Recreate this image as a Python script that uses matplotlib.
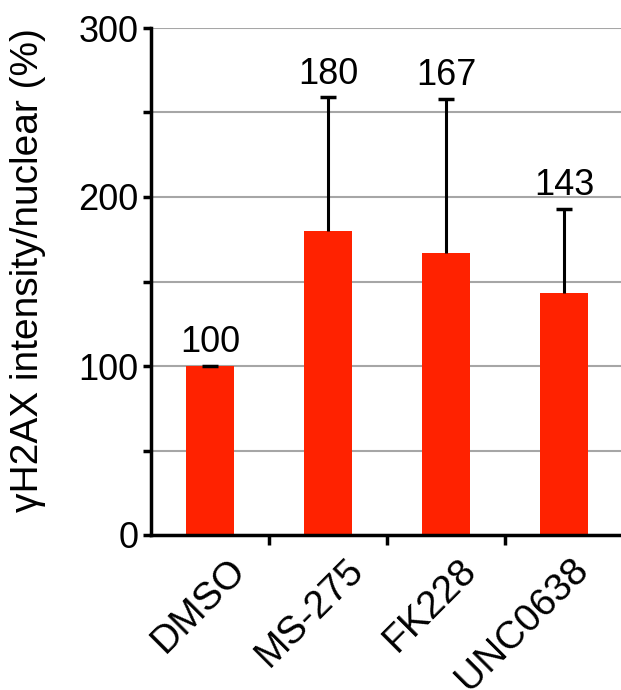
import matplotlib
matplotlib.use("Agg")
import matplotlib.pyplot as plt
import matplotlib.transforms as mtransforms

categories = ["DMSO", "MS-275", "FK228", "UNC0638"]
means = [100, 180, 167, 143]
err_upper = [0, 79, 91, 50]
labels = ["100", "180", "167", "143"]

plt.rcParams['font.family'] = ['Liberation Sans', 'DejaVu Sans']
FS = 26

fig = plt.figure(figsize=(6.21, 6.90), dpi=100)
ax = fig.add_axes([151/621, 1-535/690, 472/621, 507/690])

x = list(range(len(categories)))
ax.bar(x, means, width=0.41, color="#FF2200", zorder=2)
_, caps, _ = ax.errorbar(x, means, yerr=[[0]*len(means), err_upper], fmt='none',
                         ecolor='black', elinewidth=2.2, capsize=6, capthick=2.5, zorder=3)
if len(caps) == 2:
    caps[0].set_visible(False)

for xi, m, e, lab in zip(x, means, err_upper, labels):
    ax.annotate(lab, (xi, m + e), xytext=(0, 4), textcoords='offset points',
                ha='center', va='bottom', fontsize=FS)

ax.set_ylim(0, 300)
ax.set_xlim(-0.5, 3.5)
ax.set_yticks([0, 100, 200, 300])
ax.set_yticks([50, 150, 250], minor=True)
ax.set_yticklabels(["0", "100", "200", "300"], fontsize=FS)
ax.yaxis.grid(True, which='both', color='#A6A6A6', linewidth=1.5, zorder=0)
ax.set_axisbelow(True)
ax.tick_params(axis='y', which='both', length=6, width=2.5, direction='out', pad=3)

ax.set_xticks([0.5, 1.5, 2.5], minor=False)
ax.set_xticklabels([])
ax.set_xticks(x, minor=True)
ax.set_xticklabels(categories, minor=True, rotation=45, ha='right', va='center',
                   rotation_mode='anchor', fontsize=28)
ax.tick_params(axis='x', which='major', length=7, width=2.5, direction='out')
ax.tick_params(axis='x', which='minor', length=0, pad=21)
shifts = [0.30, 0.30, 0.25, 0.19]
for lbl, sh in zip(ax.xaxis.get_minorticklabels(), shifts):
    lbl.set_transform(lbl.get_transform() + mtransforms.ScaledTranslation(sh, 0, fig.dpi_scale_trans))

for s in ['top', 'right']:
    ax.spines[s].set_visible(False)
for s in ['left', 'bottom']:
    ax.spines[s].set_linewidth(2.5)

fig.text(28/621, 1-270/690, "γH2AX intensity/nuclear (%)", rotation=90,
         ha='center', va='center', fontsize=28)

fig.savefig("out.png", dpi=100)
